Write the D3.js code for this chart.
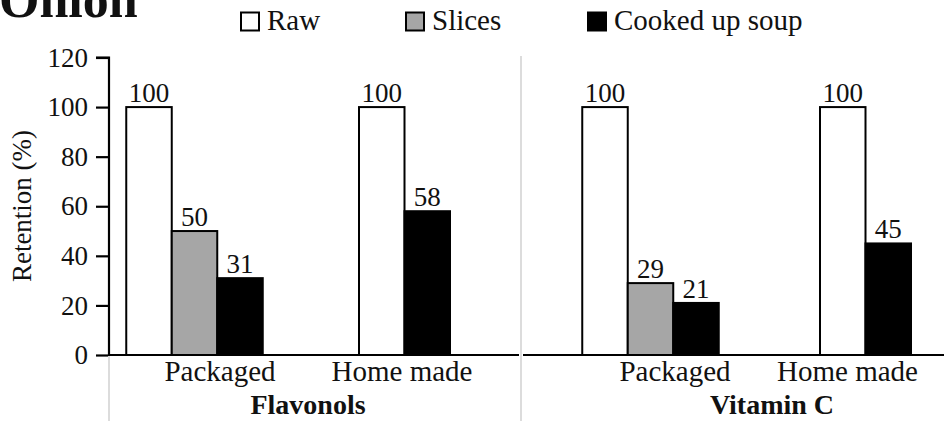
<!DOCTYPE html>
<html>
<head>
<meta charset="utf-8">
<script src="https://cdn.jsdelivr.net/npm/d3@7"></script>
<style>
  body { margin: 0; background: #fff; }
  svg text { fill: #111; }
</style>
</head>
<body>
<div id="graph_area"></div>
<script>
// Data
const categories = ['Packaged', 'Home made'];
const seriesNames = ['Raw', 'Slices', 'Cooked up soup'];
const seriesColors = ['#ffffff', '#a6a6a6', '#000000'];
// null = no bar for that group
const flavonols = [[100, 50, 31], [100, null, 58]];
const vitaminC = [[100, 29, 21], [100, null, 45]];
const yTicks = [0, 20, 40, 60, 80, 100, 120];

const width = 944;
const height = 423;
const serif = "'Liberation Serif', serif";

const svg = d3.select('#graph_area')
  .append('svg')
    .attr('width', width)
    .attr('height', height);

// Y scale (shared)
const y = d3.scaleLinear()
  .domain([0, 120])
  .range([355, 57.5]);

// Title, cut at top like the original
svg.append('text')
  .attr('x', -1)
  .attr('y', 17)
  .attr('font-family', serif)
  .attr('font-size', 52)
  .attr('font-weight', 'bold')
  .text('Onion');

// Legend
const legendX = [240, 405, 587];
seriesNames.forEach((s, i) => {
  svg.append('rect')
    .attr('x', legendX[i] + 1)
    .attr('y', 12.5)
    .attr('width', 18)
    .attr('height', 18)
    .attr('fill', seriesColors[i])
    .attr('stroke', '#000')
    .attr('stroke-width', 2);
  svg.append('text')
    .attr('x', legendX[i] + 27)
    .attr('y', 30)
    .attr('font-family', serif)
    .attr('font-size', 29)
    .text(s);
});

// Y axis
const yAxis = svg.append('g')
  .attr('transform', 'translate(109,0)')
  .call(d3.axisLeft(y).tickValues(yTicks).tickSize(13).tickPadding(8));
yAxis.select('.domain').attr('stroke', '#000').attr('stroke-width', 2.2)
  .attr('d', `M-13,${y(120)}H0V${y(0)}`);
yAxis.selectAll('.tick line').attr('stroke', '#000').attr('stroke-width', 2.2);
yAxis.selectAll('.tick text')
  .attr('font-family', serif)
  .attr('font-size', 27)
  .attr('fill', '#111');

svg.append('text')
  .attr('transform', 'translate(31,206) rotate(-90)')
  .attr('text-anchor', 'middle')
  .attr('font-family', serif)
  .attr('font-size', 27)
  .text('Retention (%)');

// Panels
const panels = [
  { name: 'Flavonols', values: flavonols, axis: [109, 519], range: [89.5, 509.5], labels: [220, 402], title: 308 },
  { name: 'Vitamin C', values: vitaminC, axis: [523, 944], range: [543, 973], labels: [675, 847.5], title: 772 },
];
const barWidth = 45.5;

// light separators
svg.append('line')
  .attr('x1', 109).attr('x2', 109).attr('y1', 356).attr('y2', 421)
  .attr('stroke', '#dcdcdc').attr('stroke-width', 2);
svg.append('line')
  .attr('x1', 521).attr('x2', 521).attr('y1', 56).attr('y2', 421)
  .attr('stroke', '#dcdcdc').attr('stroke-width', 2);

panels.forEach(p => {
  const x = d3.scaleBand()
    .domain(categories)
    .range(p.range);
  const labelX = d3.scalePoint()
    .domain(categories)
    .range(p.labels);

  categories.forEach((cat, ci) => {
    const present = seriesNames
      .map((s, si) => ({ s, si, v: p.values[ci][si] }))
      .filter(d => d.v !== null);
    const groupW = present.length * barWidth;
    const mid = x(cat) + x.bandwidth() / 2;
    const inner = d3.scaleBand()
      .domain(present.map(d => d.s))
      .range([mid - groupW / 2, mid + groupW / 2]);

    const g = svg.append('g');
    g.selectAll('rect')
      .data(present)
      .join('rect')
        .attr('x', d => inner(d.s))
        .attr('y', d => y(d.v))
        .attr('width', inner.bandwidth())
        .attr('height', d => y(0) - y(d.v))
        .attr('fill', d => seriesColors[d.si])
        .attr('stroke', '#000')
        .attr('stroke-width', 2);
    g.selectAll('text')
      .data(present)
      .join('text')
        .attr('x', d => inner(d.s) + inner.bandwidth() / 2)
        .attr('y', d => y(d.v) - 5)
        .attr('text-anchor', 'middle')
        .attr('font-family', serif)
        .attr('font-size', 27)
        .text(d => d.v);

    svg.append('text')
      .attr('x', labelX(cat))
      .attr('y', 381)
      .attr('text-anchor', 'middle')
      .attr('font-family', serif)
      .attr('font-size', 29)
      .text(cat);
  });

  // X axis line
  svg.append('line')
    .attr('x1', p.axis[0]).attr('x2', p.axis[1])
    .attr('y1', y(0)).attr('y2', y(0))
    .attr('stroke', '#000').attr('stroke-width', 2.2);

  svg.append('text')
    .attr('x', p.title)
    .attr('y', 414)
    .attr('text-anchor', 'middle')
    .attr('font-family', serif)
    .attr('font-size', 28)
    .attr('font-weight', 'bold')
    .text(p.name);
});
</script>
</body>
</html>
